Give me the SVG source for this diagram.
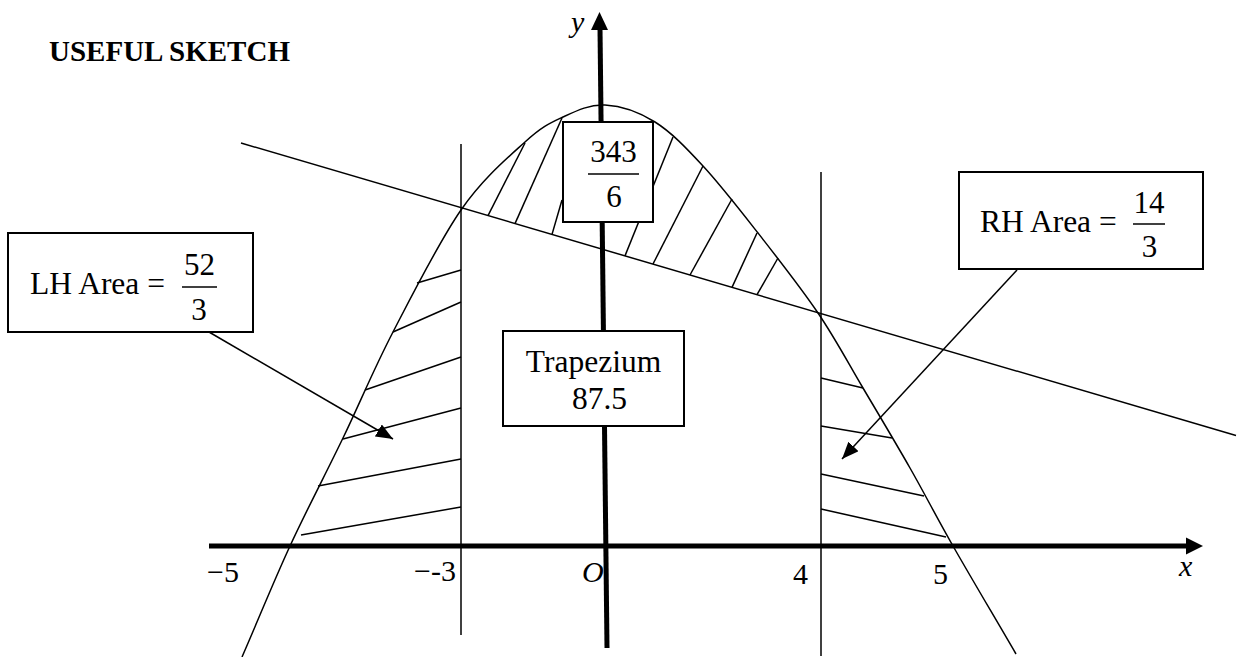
<svg xmlns="http://www.w3.org/2000/svg" width="1237" height="657" viewBox="0 0 1237 657">
<style>
.t{font-family:"Liberation Serif","Times New Roman",serif;fill:#000}
.lab{font-size:31.5px}
.fr{font-size:31px;text-anchor:middle}
.ax{font-size:30px}
.it{font-style:italic}
.thin{stroke:#000;stroke-width:1.5;fill:none}
.axis{stroke:#000;stroke-width:5;fill:none}
.box{fill:#fff;stroke:#000;stroke-width:2}
.bar{stroke:#000;stroke-width:1.5}
</style>
<defs>
<marker id="ah" markerWidth="17" markerHeight="14" refX="17" refY="7" orient="auto" markerUnits="userSpaceOnUse">
<path d="M0,0 L17,7 L0,14 z" fill="#000"/>
</marker>
</defs>
<rect width="1237" height="657" fill="#fff"/>
<text id="title" class="t" x="49" y="61" font-size="29" font-weight="bold">USEFUL SKETCH</text>
<g id="hatching" class="thin">
<line x1="488" y1="215.6" x2="525" y2="143"/>
<line x1="515" y1="223.6" x2="562" y2="118"/>
<line x1="552" y1="234.4" x2="562" y2="200"/>
<line x1="625" y1="255.9" x2="673" y2="137"/>
<line x1="653" y1="264" x2="703" y2="166"/>
<line x1="690" y1="275" x2="732" y2="199"/>
<line x1="732" y1="287.4" x2="757" y2="233"/>
<line x1="757" y1="294.7" x2="778" y2="258"/>
<line x1="417" y1="283" x2="461" y2="270"/>
<line x1="393" y1="332" x2="461" y2="302"/>
<line x1="365" y1="390" x2="461" y2="357"/>
<line x1="343" y1="439" x2="461" y2="408"/>
<line x1="318" y1="486" x2="461" y2="459"/>
<line x1="301" y1="535" x2="461" y2="507"/>
<line x1="821" y1="378" x2="863" y2="388"/>
<line x1="821" y1="426" x2="892" y2="438"/>
<line x1="821" y1="474" x2="924" y2="496"/>
<line x1="821" y1="509" x2="946" y2="537"/>
</g>
<g id="verticals" class="thin">
<line x1="461" y1="144" x2="461" y2="635"/>
<line x1="821" y1="172" x2="821" y2="656"/>
</g>
<path id="line" class="thin" d="M241,143 L1236,435.5"/>
<path id="curve" class="thin" d="M242,657 C258.7,618.7 273.3,582.2 290,546 C306.7,509.8 325.8,473.7 343,438 C360.2,402.3 373.3,370 393,332 C412.7,294 439,241.7 461,210 C483,178.3 508,157.5 525,142 C542,126.5 549.7,123.2 563,117 C576.3,110.8 589.7,104.2 605,105 C620.3,105.8 638.7,111.8 655,122 C671.3,132.2 685.8,147.5 703,166 C720.2,184.5 738.8,208.5 758,233 C777.2,257.5 800.5,287.2 818,313 C835.5,338.8 847.7,362.2 863,388 C878.3,413.8 895,441.7 910,468 C925,494.3 935.5,515.3 953,546 C970.5,576.7 994.3,616.7 1016,654"/>
<g id="axes">
<line class="axis" x1="209" y1="546" x2="1188" y2="546"/>
<polygon points="1203,546 1186,537.5 1186,554.5" fill="#000"/>
<line class="axis" x1="600" y1="28" x2="607" y2="648"/>
<polygon points="599.5,12 591,30 608,30" fill="#000"/>
<text class="t ax it" x="571" y="32">y</text>
<text class="t ax it" x="1179" y="576">x</text>
<text class="t ax" x="207" y="582">−5</text>
<text class="t ax" x="456" y="581" text-anchor="end">−-3</text>
<text class="t ax it" x="582" y="582">O</text>
<text class="t ax" x="793" y="584">4</text>
<text class="t ax" x="933" y="584">5</text>
</g>
<g id="connectors" class="thin">
<line x1="209" y1="332" x2="393" y2="439" marker-end="url(#ah)"/>
<line x1="1017" y1="270" x2="842" y2="459" marker-end="url(#ah)"/>
</g>
<g id="box-top">
<rect class="box" x="563" y="122" width="90" height="100"/>
<text class="t fr" x="613.5" y="162">343</text>
<line class="bar" x1="588" y1="174" x2="639" y2="174"/>
<text class="t fr" x="614" y="207">6</text>
</g>
<g id="box-lh">
<rect class="box" x="8" y="233" width="245" height="99"/>
<text class="t lab" x="30" y="294">LH Area =</text>
<text class="t fr" x="199.5" y="275">52</text>
<line class="bar" x1="182" y1="287" x2="217" y2="287"/>
<text class="t fr" x="199" y="320">3</text>
</g>
<g id="box-rh">
<rect class="box" x="959" y="172" width="244" height="97"/>
<text class="t lab" x="980" y="232">RH Area =</text>
<text class="t fr" x="1149" y="213">14</text>
<line class="bar" x1="1133" y1="224" x2="1165" y2="224"/>
<text class="t fr" x="1149.5" y="257">3</text>
</g>
<g id="box-trap">
<rect class="box" x="503" y="331" width="181" height="95"/>
<text class="t lab" x="593.5" y="372" text-anchor="middle">Trapezium</text>
<text class="t lab" x="599.5" y="409" text-anchor="middle">87.5</text>
</g>
</svg>
